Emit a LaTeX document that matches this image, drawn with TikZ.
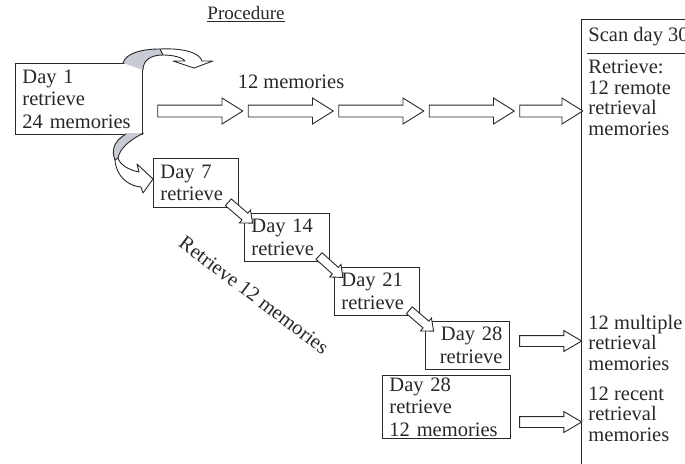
\documentclass[tikz,border=0pt]{standalone}
\usepackage{fontspec}
\setmainfont{Liberation Serif}
\usetikzlibrary{shapes.arrows,calc}
\definecolor{ribbongray}{RGB}{200,203,212}
\definecolor{inkgray}{RGB}{40,40,40}
\newcommand{\dayfont}{\fontsize{20.5}{22.5}\selectfont}
\newcommand{\colfont}{\fontsize{20.5}{20.5}\selectfont}
\newcommand{\titlefont}{\fontsize{19}{21}\selectfont}
\tikzset{
  daybox/.style={draw, anchor=north west, align=left, inner xsep=7pt, inner ysep=0pt, font=\dayfont},
  rowarrow/.style={single arrow, draw, fill=white, inner xsep=0pt, inner ysep=5.5pt,
    single arrow head extend=7pt, single arrow tip angle=64, minimum height=#1},
  outarrow/.style={single arrow, draw, fill=white, inner xsep=0pt, inner ysep=5pt,
    single arrow head extend=5pt, single arrow tip angle=61, minimum height=62pt},
  steparrow/.style={single arrow, draw, fill=white, inner xsep=0pt, inner ysep=4pt,
    single arrow head extend=4pt, single arrow tip angle=80, minimum height=32pt, sloped},
  coltext/.style={anchor=base west, align=left, inner sep=0pt, font=\colfont},
  ribbon/.style={draw, line join=round},
}
\begin{document}
\begin{tikzpicture}[x=1pt,y=-1pt,line width=0.9pt,color=inkgray]
  \clip (0,0) rectangle (685,463);
  \node[font=\titlefont] (title) at (246,14) {\underline{Procedure}};

  % day boxes
  \node[daybox, text width=113pt, minimum height=71pt] (d1) at (15,63) {Day 1\\retrieve\\24 memories};
  \node[daybox, text width=71pt, minimum height=49pt] (d7) at (153,158) {Day 7\\retrieve};
  \node[daybox, text width=71pt, minimum height=48pt] (d14) at (244,213) {Day 14\\retrieve};
  \node[daybox, text width=71pt, minimum height=48pt] (d21) at (334,267) {Day 21\\retrieve};
  \node[daybox, text width=70pt, minimum height=48pt, align=right] (d28a) at (425,321) {Day 28\\retrieve};
  \node[daybox, text width=114pt, minimum height=63pt] (d28b) at (382,375) {Day 28\\retrieve\\12 memories};

  % scan column (base = last line)
  \draw (581,470) -- (581,19) -- (700,19);
  \draw (587,53) -- (700,53);
  \node[coltext] (scan) at (588,41) {Scan day 30};
  \node[coltext] (remote) at (588,135) {Retrieve:\\12 remote\\retrieval\\memories};
  \node[coltext] (multiple) at (588,370) {12 multiple\\retrieval\\memories};
  \node[coltext] (recent) at (588,441) {12 recent\\retrieval\\memories};

  % top row
  \node[font=\dayfont] (twelve) at (291,82) {12 memories};
  \foreach \x [count=\i] in {195.5,286,376.5,467}
    \node[rowarrow=85pt] (row\i) at (\x,111) {};
  \node[rowarrow=63pt] (row5) at (546.5,111) {};

  % staircase
  \foreach \a/\b in {d7/d14,d14/d21,d21/d28a}
    \path ($(\a.south east)+(-11,-6)$) -- ($(\b.north west)+(5,7)$) node[midway, steparrow] (\a-\b) {};
  \node[font=\dayfont, rotate=-37] (retlabel) at (254,295) {Retrieve 12 memories};

  % day 28 outputs
  \node[outarrow] (out1) at (546,341) {};
  \node[outarrow] (out2) at (546,422) {};

  % curved arrows out of day 1
  \fill[ribbongray] (123,63) .. controls (126,53) and (142,49) .. (160,49) -- (163,55)
    .. controls (151,55) and (143,60) .. (143,70) -- cycle;
  \draw (123,63) .. controls (126,53) and (142,49) .. (160,49);
  \draw (163,55) .. controls (151,55) and (143,60) .. (143,70);
  \draw[ribbon, fill=white] (160,49) .. controls (182,48) and (199,52) .. (202,61) -- (213,61)
    -- (194,68) -- (173,61) -- (185,61) .. controls (182,57) and (172,55) .. (163,55) -- cycle;

  \fill[ribbongray] (126,133) -- (143.5,133) .. controls (130,140) and (120,148) .. (118,158)
    -- (115,160) .. controls (111,150) and (114,141) .. (126,133) -- cycle;
  \draw (143.5,133) .. controls (130,140) and (120,148) .. (118,158);
  \draw (115,160) .. controls (111,150) and (114,141) .. (126,134);
  \draw[ribbon, fill=white] (115,160) .. controls (116,176) and (128,186) .. (141,187) -- (143,193)
    -- (153,179) -- (137,164) -- (139,172) .. controls (129,170) and (120,165) .. (118,158) -- cycle;
\end{tikzpicture}
\end{document}
